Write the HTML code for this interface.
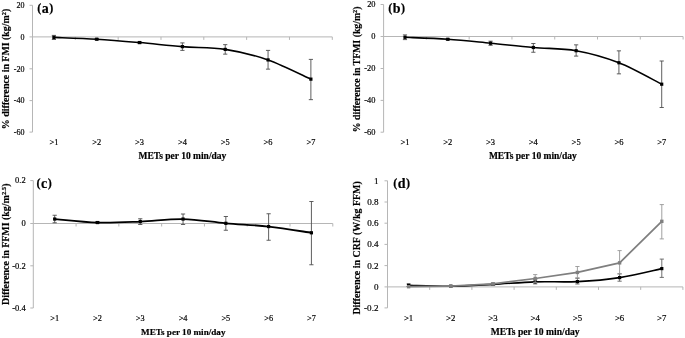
<!DOCTYPE html>
<html><head><meta charset="utf-8"><title>Figure</title>
<style>html,body{margin:0;padding:0;background:#fff}svg{display:block}text{font-family:"Liberation Serif","Times New Roman",serif;fill:#000;stroke:#000;stroke-width:0.18px}</style>
</head><body>
<svg width="685" height="338" viewBox="0 0 685 338">
<rect width="685" height="338" fill="#fff"/>
<g>
<path d="M32.5 5.3 V132.1 M32.5 36.9 H332.3" stroke="#b6b6b6" stroke-width="1" fill="none"/>
<path d="M29.5 5.3 H32.5 M29.5 36.9 H32.5 M29.5 68.8 H32.5 M29.5 100.6 H32.5 M29.5 132.1 H32.5 M75.33 36.9 v3 M118.16 36.9 v3 M160.99 36.9 v3 M203.81 36.9 v3 M246.64 36.9 v3 M289.47 36.9 v3 M332.30 36.9 v3 " stroke="#b6b6b6" stroke-width="1" fill="none"/>
<text x="24.50" y="8.10" text-anchor="end" font-size="8.0">20</text>
<text x="24.50" y="39.70" text-anchor="end" font-size="8.0">0</text>
<text x="24.50" y="71.60" text-anchor="end" font-size="8.0">-20</text>
<text x="24.50" y="103.40" text-anchor="end" font-size="8.0">-40</text>
<text x="24.50" y="134.90" text-anchor="end" font-size="8.0">-60</text>
<text x="53.91" y="145.30" text-anchor="middle" font-size="8.4">&gt;1</text>
<text x="96.74" y="145.30" text-anchor="middle" font-size="8.4">&gt;2</text>
<text x="139.57" y="145.30" text-anchor="middle" font-size="8.4">&gt;3</text>
<text x="182.40" y="145.30" text-anchor="middle" font-size="8.4">&gt;4</text>
<text x="225.23" y="145.30" text-anchor="middle" font-size="8.4">&gt;5</text>
<text x="268.06" y="145.30" text-anchor="middle" font-size="8.4">&gt;6</text>
<text x="310.89" y="145.30" text-anchor="middle" font-size="8.4">&gt;7</text>
<text x="182.40" y="158.70" text-anchor="middle" font-size="9.5" font-weight="bold">METs per 10 min/day</text>
<text x="37.30" y="12.90" font-size="14" font-weight="bold"><tspan font-size="12.18" dy="-0.7">(</tspan><tspan dy="0.7" dx="0.45">a</tspan><tspan font-size="12.18" dy="-0.7" dx="0.45">)</tspan></text>
<text transform="translate(9.1 69.00) rotate(-90)" text-anchor="middle" font-size="9.9" font-weight="bold">% difference in FMI (kg/m<tspan font-size="6.3" dy="-3.3">2</tspan><tspan dy="3.3">)</tspan></text>
<path d="M53.91 35.4 V39.5 M51.81 35.4 h4.2 M51.81 39.5 h4.2 M96.74 38.5 V40 M94.64 38.5 h4.2 M94.64 40 h4.2 M139.57 41.7 V43.6 M137.47 41.7 h4.2 M137.47 43.6 h4.2 M182.40 42.9 V50.4 M180.30 42.9 h4.2 M180.30 50.4 h4.2 M225.23 44.65 V54.15 M223.13 44.65 h4.2 M223.13 54.15 h4.2 M268.06 50.4 V69.15 M265.96 50.4 h4.2 M265.96 69.15 h4.2 M310.89 59.4 V99.65 M308.79 59.4 h4.2 M308.79 99.65 h4.2 " stroke="#4d4d4d" stroke-width="0.9" fill="none"/>
<path d="M53.91 37.40 C61.05 37.70 82.47 38.34 96.74 39.20 C111.02 40.06 125.30 41.31 139.57 42.55 C153.85 43.79 168.12 45.51 182.40 46.65 C196.68 47.79 210.95 47.19 225.23 49.40 C239.50 51.61 253.78 54.94 268.06 59.90 C282.33 64.86 303.75 75.94 310.89 79.15" stroke="#000" stroke-width="1.6" fill="none" stroke-linejoin="round" stroke-linecap="round"/>
<rect x="52.31" y="35.80" width="3.2" height="3.2" fill="#000"/>
<rect x="95.14" y="37.60" width="3.2" height="3.2" fill="#000"/>
<rect x="137.97" y="40.95" width="3.2" height="3.2" fill="#000"/>
<rect x="180.80" y="45.05" width="3.2" height="3.2" fill="#000"/>
<rect x="223.63" y="47.80" width="3.2" height="3.2" fill="#000"/>
<rect x="266.46" y="58.30" width="3.2" height="3.2" fill="#000"/>
<rect x="309.29" y="77.55" width="3.2" height="3.2" fill="#000"/>
</g>
<g>
<path d="M383.6 4.5 V132.2 M383.6 36.5 H683.1" stroke="#b6b6b6" stroke-width="1" fill="none"/>
<path d="M380.6 4.5 H383.6 M380.6 36.5 H383.6 M380.6 68.5 H383.6 M380.6 100.4 H383.6 M380.6 132.2 H383.6 M426.39 36.5 v3 M469.17 36.5 v3 M511.96 36.5 v3 M554.74 36.5 v3 M597.53 36.5 v3 M640.31 36.5 v3 M683.10 36.5 v3 " stroke="#b6b6b6" stroke-width="1" fill="none"/>
<text x="375.50" y="7.30" text-anchor="end" font-size="8.4">20</text>
<text x="375.50" y="39.30" text-anchor="end" font-size="8.4">0</text>
<text x="375.50" y="71.30" text-anchor="end" font-size="8.4">-20</text>
<text x="375.50" y="103.20" text-anchor="end" font-size="8.4">-40</text>
<text x="375.50" y="135.00" text-anchor="end" font-size="8.4">-60</text>
<text x="404.99" y="145.40" text-anchor="middle" font-size="8.5">&gt;1</text>
<text x="447.78" y="145.40" text-anchor="middle" font-size="8.5">&gt;2</text>
<text x="490.56" y="145.40" text-anchor="middle" font-size="8.5">&gt;3</text>
<text x="533.35" y="145.40" text-anchor="middle" font-size="8.5">&gt;4</text>
<text x="576.14" y="145.40" text-anchor="middle" font-size="8.5">&gt;5</text>
<text x="618.92" y="145.40" text-anchor="middle" font-size="8.5">&gt;6</text>
<text x="661.71" y="145.40" text-anchor="middle" font-size="8.5">&gt;7</text>
<text x="532.85" y="158.80" text-anchor="middle" font-size="9.5" font-weight="bold">METs per 10 min/day</text>
<text x="388.30" y="12.80" font-size="14" font-weight="bold"><tspan font-size="12.18" dy="-0.7">(</tspan><tspan dy="0.7" dx="0.45">b</tspan><tspan font-size="12.18" dy="-0.7" dx="0.45">)</tspan></text>
<text transform="translate(360.2 69.35) rotate(-90)" text-anchor="middle" font-size="9.8" font-weight="bold">% difference in TFMI (kg/m<tspan font-size="6.3" dy="-3.3">2</tspan><tspan dy="3.3">)</tspan></text>
<path d="M404.99 34.9 V39.6 M402.89 34.9 h4.2 M402.89 39.6 h4.2 M447.78 38.6 V40 M445.68 38.6 h4.2 M445.68 40 h4.2 M490.56 41.2 V45.3 M488.46 41.2 h4.2 M488.46 45.3 h4.2 M533.35 43.5 V52.25 M531.25 43.5 h4.2 M531.25 52.25 h4.2 M576.14 44.85 V56.1 M574.04 44.85 h4.2 M574.04 56.1 h4.2 M618.92 50.85 V73.85 M616.82 50.85 h4.2 M616.82 73.85 h4.2 M661.71 61 V107.5 M659.61 61 h4.2 M659.61 107.5 h4.2 " stroke="#4d4d4d" stroke-width="0.9" fill="none"/>
<path d="M404.99 37.30 C412.12 37.62 433.52 38.27 447.78 39.25 C462.04 40.23 476.30 41.83 490.56 43.20 C504.83 44.58 519.09 46.25 533.35 47.50 C547.61 48.75 561.87 48.16 576.14 50.70 C590.40 53.24 604.66 57.17 618.92 62.75 C633.18 68.33 654.58 80.62 661.71 84.20" stroke="#000" stroke-width="1.6" fill="none" stroke-linejoin="round" stroke-linecap="round"/>
<rect x="403.39" y="35.70" width="3.2" height="3.2" fill="#000"/>
<rect x="446.18" y="37.65" width="3.2" height="3.2" fill="#000"/>
<rect x="488.96" y="41.60" width="3.2" height="3.2" fill="#000"/>
<rect x="531.75" y="45.90" width="3.2" height="3.2" fill="#000"/>
<rect x="574.54" y="49.10" width="3.2" height="3.2" fill="#000"/>
<rect x="617.32" y="61.15" width="3.2" height="3.2" fill="#000"/>
<rect x="660.11" y="82.60" width="3.2" height="3.2" fill="#000"/>
</g>
<g>
<path d="M33.3 180.6 V308.0 M33.3 223.5 H332.8" stroke="#b6b6b6" stroke-width="1" fill="none"/>
<path d="M30.299999999999997 180.6 H33.3 M30.299999999999997 223.5 H33.3 M30.299999999999997 265.8 H33.3 M30.299999999999997 308.0 H33.3 M76.09 223.5 v3 M118.87 223.5 v3 M161.66 223.5 v3 M204.44 223.5 v3 M247.23 223.5 v3 M290.01 223.5 v3 M332.80 223.5 v3 " stroke="#b6b6b6" stroke-width="1" fill="none"/>
<text x="25.70" y="183.00" text-anchor="end" font-size="8.5">0.2</text>
<text x="25.70" y="225.80" text-anchor="end" font-size="8.5">0</text>
<text x="25.70" y="268.60" text-anchor="end" font-size="8.5">-0.2</text>
<text x="25.70" y="311.30" text-anchor="end" font-size="8.5">-0.4</text>
<text x="54.69" y="321.20" text-anchor="middle" font-size="8.3">&gt;1</text>
<text x="97.48" y="321.20" text-anchor="middle" font-size="8.3">&gt;2</text>
<text x="140.26" y="321.20" text-anchor="middle" font-size="8.3">&gt;3</text>
<text x="183.05" y="321.20" text-anchor="middle" font-size="8.3">&gt;4</text>
<text x="225.84" y="321.20" text-anchor="middle" font-size="8.3">&gt;5</text>
<text x="268.62" y="321.20" text-anchor="middle" font-size="8.3">&gt;6</text>
<text x="311.41" y="321.20" text-anchor="middle" font-size="8.3">&gt;7</text>
<text x="183.25" y="334.60" text-anchor="middle" font-size="9.15" font-weight="bold">METs per 10 min/day</text>
<text x="36.50" y="187.80" font-size="14" font-weight="bold"><tspan font-size="12.18" dy="-0.7">(</tspan><tspan dy="0.7" dx="0.45">c</tspan><tspan font-size="12.18" dy="-0.7" dx="0.45">)</tspan></text>
<text transform="translate(9.1 244.30) rotate(-90)" text-anchor="middle" font-size="9.95" font-weight="bold">Difference in FFMI (kg/m<tspan font-size="6.6" dy="-3.3">2.5</tspan><tspan dy="3.3">)</tspan></text>
<path d="M54.69 215.25 V222.75 M52.59 215.25 h4.2 M52.59 222.75 h4.2 M97.48 221.5 V223.5 M95.38 221.5 h4.2 M95.38 223.5 h4.2 M140.26 218.75 V224.5 M138.16 218.75 h4.2 M138.16 224.5 h4.2 M183.05 214.0 V224.5 M180.95 214.0 h4.2 M180.95 224.5 h4.2 M225.84 216.5 V230.25 M223.74 216.5 h4.2 M223.74 230.25 h4.2 M268.62 213.75 V240.25 M266.52 213.75 h4.2 M266.52 240.25 h4.2 M311.41 201.5 V264.75 M309.31 201.5 h4.2 M309.31 264.75 h4.2 " stroke="#4d4d4d" stroke-width="0.9" fill="none"/>
<path d="M54.69 219.05 C61.82 219.63 83.22 222.13 97.48 222.55 C111.74 222.97 126.00 222.13 140.26 221.55 C154.53 220.97 168.79 218.76 183.05 219.05 C197.31 219.34 211.57 222.05 225.84 223.30 C240.10 224.55 254.36 224.97 268.62 226.55 C282.88 228.13 304.28 231.76 311.41 232.80" stroke="#000" stroke-width="1.8" fill="none" stroke-linejoin="round" stroke-linecap="round"/>
<rect x="53.09" y="217.45" width="3.2" height="3.2" fill="#000"/>
<rect x="95.88" y="220.95" width="3.2" height="3.2" fill="#000"/>
<rect x="138.66" y="219.95" width="3.2" height="3.2" fill="#000"/>
<rect x="181.45" y="217.45" width="3.2" height="3.2" fill="#000"/>
<rect x="224.24" y="221.70" width="3.2" height="3.2" fill="#000"/>
<rect x="267.02" y="224.95" width="3.2" height="3.2" fill="#000"/>
<rect x="309.81" y="231.20" width="3.2" height="3.2" fill="#000"/>
</g>
<g>
<path d="M387.5 180.8 V307.9 M387.5 286.9 H682.9" stroke="#b6b6b6" stroke-width="1" fill="none"/>
<path d="M384.5 180.8 H387.5 M384.5 202 H387.5 M384.5 223.2 H387.5 M384.5 244.4 H387.5 M384.5 265.6 H387.5 M384.5 286.9 H387.5 M384.5 307.9 H387.5 M429.70 286.9 v3 M471.90 286.9 v3 M514.10 286.9 v3 M556.30 286.9 v3 M598.50 286.9 v3 M640.70 286.9 v3 M682.90 286.9 v3 " stroke="#b6b6b6" stroke-width="1" fill="none"/>
<text x="378.50" y="183.70" text-anchor="end" font-size="9.1">1</text>
<text x="378.50" y="204.90" text-anchor="end" font-size="9.1">0.8</text>
<text x="378.50" y="226.10" text-anchor="end" font-size="9.1">0.6</text>
<text x="378.50" y="247.30" text-anchor="end" font-size="9.1">0.4</text>
<text x="378.50" y="268.50" text-anchor="end" font-size="9.1">0.2</text>
<text x="378.50" y="289.80" text-anchor="end" font-size="9.1">0</text>
<text x="378.50" y="310.80" text-anchor="end" font-size="9.1">-0.2</text>
<text x="408.60" y="321.30" text-anchor="middle" font-size="8.8">&gt;1</text>
<text x="450.80" y="321.30" text-anchor="middle" font-size="8.8">&gt;2</text>
<text x="493.00" y="321.30" text-anchor="middle" font-size="8.8">&gt;3</text>
<text x="535.20" y="321.30" text-anchor="middle" font-size="8.8">&gt;4</text>
<text x="577.40" y="321.30" text-anchor="middle" font-size="8.8">&gt;5</text>
<text x="619.60" y="321.30" text-anchor="middle" font-size="8.8">&gt;6</text>
<text x="661.80" y="321.30" text-anchor="middle" font-size="8.8">&gt;7</text>
<text x="535.20" y="334.50" text-anchor="middle" font-size="9.6" font-weight="bold">METs per 10 min/day</text>
<text x="393.20" y="187.90" font-size="14.0" font-weight="bold"><tspan font-size="12.18" dy="-0.7">(</tspan><tspan dy="0.7" dx="0.45">d</tspan><tspan font-size="12.18" dy="-0.7" dx="0.45">)</tspan></text>
<text transform="translate(359.6 247.95) rotate(-90)" text-anchor="middle" font-size="9.94" font-weight="bold">Difference in CRF (W/kg FFM)</text>
<path d="M408.60 284 V286.5 M406.50 284 h4.2 M406.50 286.5 h4.2 M493.00 283.3 V285.4 M490.90 283.3 h4.2 M490.90 285.4 h4.2 M535.20 279.7 V283.9 M533.10 279.7 h4.2 M533.10 283.9 h4.2 M577.40 278.3 V284.0 M575.30 278.3 h4.2 M575.30 284.0 h4.2 M619.60 273.8 V281.2 M617.50 273.8 h4.2 M617.50 281.2 h4.2 M661.80 259.1 V277.4 M659.70 259.1 h4.2 M659.70 277.4 h4.2 " stroke="#606060" stroke-width="0.9" fill="none"/>
<path d="M408.60 285.20 C415.63 285.37 436.73 286.33 450.80 286.20 C464.87 286.07 478.93 285.12 493.00 284.40 C507.07 283.67 521.13 282.32 535.20 281.85 C549.27 281.38 563.33 282.31 577.40 281.60 C591.47 280.89 605.53 279.77 619.60 277.60 C633.67 275.43 654.77 270.10 661.80 268.60" stroke="#000" stroke-width="1.6" fill="none" stroke-linejoin="round" stroke-linecap="round"/>
<rect x="407.00" y="283.60" width="3.2" height="3.2" fill="#000"/>
<rect x="449.20" y="284.60" width="3.2" height="3.2" fill="#000"/>
<rect x="491.40" y="282.80" width="3.2" height="3.2" fill="#000"/>
<rect x="533.60" y="280.25" width="3.2" height="3.2" fill="#000"/>
<rect x="575.80" y="280.00" width="3.2" height="3.2" fill="#000"/>
<rect x="618.00" y="276.00" width="3.2" height="3.2" fill="#000"/>
<rect x="660.20" y="267.00" width="3.2" height="3.2" fill="#000"/>
<path d="M493.00 282.8 V285 M490.90 282.8 h4.2 M490.90 285 h4.2 M535.20 274.6 V282.4 M533.10 274.6 h4.2 M533.10 282.4 h4.2 M577.40 266.5 V277.8 M575.30 266.5 h4.2 M575.30 277.8 h4.2 M619.60 250.6 V273.9 M617.50 250.6 h4.2 M617.50 273.9 h4.2 M661.80 204.6 V238.9 M659.70 204.6 h4.2 M659.70 238.9 h4.2 " stroke="#969696" stroke-width="0.9" fill="none"/>
<path d="M408.60 286.70 L450.80 286.20 L493.00 283.90 L535.20 278.50 L577.40 272.45 L619.60 262.85 L661.80 221.35" stroke="#7f7f7f" stroke-width="1.75" fill="none" stroke-linejoin="round" stroke-linecap="round"/>
<rect x="406.90" y="285.00" width="3.4" height="3.4" fill="#7f7f7f"/>
<rect x="449.10" y="284.50" width="3.4" height="3.4" fill="#7f7f7f"/>
<rect x="491.30" y="282.20" width="3.4" height="3.4" fill="#7f7f7f"/>
<rect x="533.50" y="276.80" width="3.4" height="3.4" fill="#7f7f7f"/>
<rect x="575.70" y="270.75" width="3.4" height="3.4" fill="#7f7f7f"/>
<rect x="617.90" y="261.15" width="3.4" height="3.4" fill="#7f7f7f"/>
<rect x="660.10" y="219.65" width="3.4" height="3.4" fill="#7f7f7f"/>
</g>
</svg>
</body></html>
